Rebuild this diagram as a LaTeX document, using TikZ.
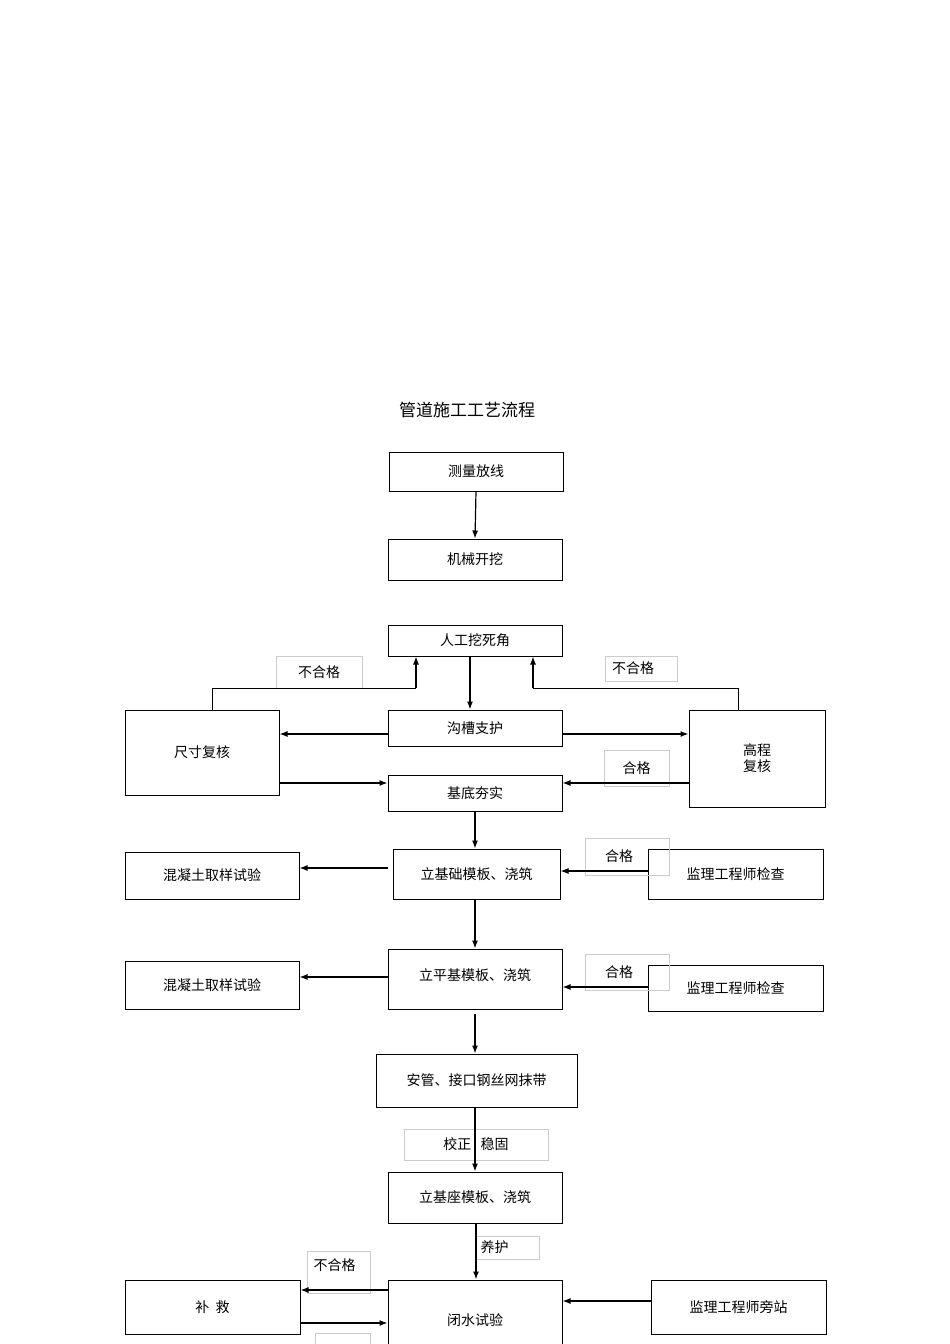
\documentclass[tikz,border=0pt]{standalone}
\usepackage{fontspec}
\setmainfont{Noto Sans CJK SC}
\usetikzlibrary{arrows.meta}
\begin{document}
\begin{tikzpicture}[x=1pt,y=-1pt,
  box/.style={draw,line width=1pt,inner sep=0pt,font=\fontsize{14}{16}\selectfont},
  lab/.style={draw=black!20,line width=0.5pt,inner sep=0pt,font=\fontsize{14}{16}\selectfont},
  ar/.style={-{Latex[length=8pt,width=6pt]},line width=1.2pt},
  ln/.style={line width=1pt}]
\useasboundingbox (0,0) rectangle (950,1344);
\newcommand{\bx}[6]{\node[#6,minimum width=#3-#1,minimum height=#4-#2] (#5) at ({(#1+#3)/2},{(#2+#4)/2}) {};}
\node[font=\fontsize{17}{20}\selectfont] (title) at (467,410) {管道施工工艺流程};
\node[box,minimum width=174,minimum height=39] (a) at (476,471.5) {测量放线};
\node[box,minimum width=174,minimum height=41] (b) at (475,559.5) {机械开挖};
\node[box,minimum width=174,minimum height=31] (c) at (475,640.5) {人工挖死角};
\node[box,minimum width=174,minimum height=36] (d) at (475,728) {沟槽支护};
\node[box,minimum width=154,minimum height=85] (e) at (202,752.5) {尺寸复核};
\node[box,minimum width=136,minimum height=97,align=center] (f) at (757,758.5) {高程\\复核};
\node[box,minimum width=174,minimum height=36] (g) at (475,793) {基底夯实};
\node[box,minimum width=167,minimum height=50] (h) at (476.5,874) {立基础模板、浇筑};
\node[box,minimum width=174,minimum height=47] (i1) at (212,875.5) {混凝土取样试验};
\node[box,minimum width=175,minimum height=50] (j1) at (735.5,874) {\raisebox{-6pt}{监理工程师检查}};
\node[box,minimum width=174,minimum height=60] (k) at (475,979) {\raisebox{8pt}{立平基模板、浇筑}};
\node[box,minimum width=174,minimum height=48] (i2) at (212,985) {混凝土取样试验};
\node[box,minimum width=175,minimum height=46] (j2) at (735.5,988) {\raisebox{-6pt}{监理工程师检查}};
\node[box,minimum width=201,minimum height=53] (l) at (476.5,1080.5) {安管、接口钢丝网抹带};
\node[box,minimum width=174,minimum height=51] (m) at (475,1197.5) {立基座模板、浇筑};
\node[box,minimum width=175,minimum height=54] (n) at (212.5,1307) {补\ \ 救};
\node[box,minimum width=174,minimum height=80] (o) at (475,1320) {\raisebox{-12pt}{闭水试验}};
\node[box,minimum width=175,minimum height=54] (p) at (738.5,1307) {监理工程师旁站};
% labels
\node[lab,minimum width=86,minimum height=32] (l1) at (319,672) {不合格};
\node[lab,minimum width=72,minimum height=25] (l2) at (641,668.5) {\hspace{-16pt}不合格};
\node[lab,minimum width=65,minimum height=36] (l3) at (636.5,768) {合格};
\node[lab,minimum width=84,minimum height=37] (l4) at (627,856.5) {\hspace{-16pt}合格};
\node[lab,minimum width=84,minimum height=36] (l5) at (627,972) {\hspace{-16pt}合格};
\node[lab,minimum width=144,minimum height=31] (l6) at (476,1144.5) {校正\ \ \ 稳固};
\node[lab,minimum width=63,minimum height=23] (l7) at (507.5,1247.5) {\hspace{-26pt}养护};
\node[lab,minimum width=63,minimum height=42] (l8) at (338.5,1272) {\raisebox{14pt}{\hspace{-8pt}不合格}};
\node[lab,minimum width=55,minimum height=14] (l9) at (342.5,1340) {};
% arrows
\draw[ar] (a.south) -- (b.north);
\draw[ar] (c.south -| 470,0) -- (d.north -| 470,0);
\draw[ln] (e.north -| 212,0) |- (416,688);
\draw[ar] (416,688) -- (c.south -| 416,0);
\draw[ln] (f.north -| 738,0) |- (533,688);
\draw[ar] (533,688) -- (c.south -| 533,0);
\draw[ar] (d.west |- 0,734) -- (e.east |- 0,734);
\draw[ar] (d.east |- 0,734) -- (f.west |- 0,734);
\draw[ar] (e.east |- 0,783) -- (g.west |- 0,783);
\draw[ar] (f.west |- 0,783) -- (g.east |- 0,783);
\draw[ar] (g.south) -- (h.north -| g.south);
\draw[ar] (388,868) -- (i1.east |- 0,868);
\draw[ar] (j1.west |- 0,871) -- (h.east |- 0,871);
\draw[ar] (h.south -| 475,0) -- (k.north -| 475,0);
\draw[ar] (k.west |- 0,977) -- (i2.east |- 0,977);
\draw[ar] (j2.west |- 0,987) -- (k.east |- 0,987);
\draw[ar] (475,1014) -- (l.north -| 475,0);
\draw[ar] (l.south -| 475,0) -- (m.north -| 475,0);
\draw[ar] (m.south -| 476,0) -- (o.north -| 476,0);
\draw[ar] (o.west |- 0,1290) -- (n.east |- 0,1290);
\draw[ar] (n.east |- 0,1323) -- (o.west |- 0,1323);
\draw[ar] (p.west |- 0,1301) -- (o.east |- 0,1301);
\end{tikzpicture}
\end{document}
